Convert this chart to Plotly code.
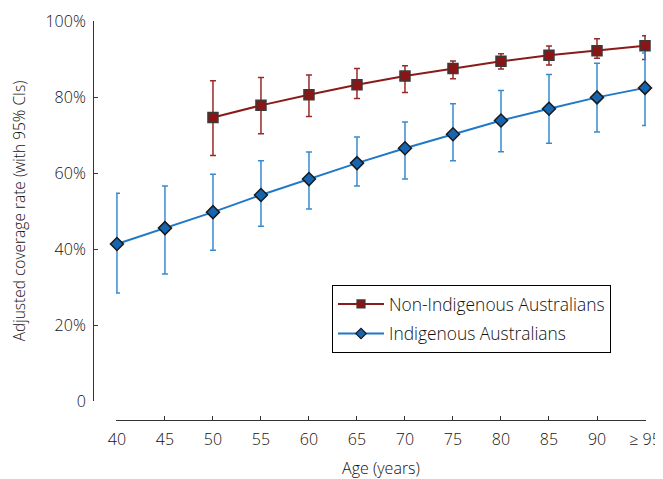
import plotly.graph_objects as go

ages = ["40", "45", "50", "55", "60", "65", "70", "75", "80", "85", "90", "≥ 95"]

non_ages = ages[2:]
non_rate = [74.6, 77.8, 80.6, 83.2, 85.5, 87.5, 89.4, 91.0, 92.2, 93.5]
non_upper = [84.3, 85.1, 85.8, 87.5, 88.2, 89.5, 91.4, 93.4, 95.3, 96.1]
non_lower = [64.6, 70.3, 74.9, 79.6, 81.2, 84.8, 87.4, 88.4, 90.2, 89.9]

ind_rate = [41.3, 45.5, 49.7, 54.2, 58.4, 62.6, 66.5, 70.2, 73.8, 76.9, 79.9, 82.4]
ind_upper = [54.7, 56.6, 59.7, 63.2, 65.5, 69.5, 73.4, 78.2, 81.7, 85.9, 88.9, 91.6]
ind_lower = [28.4, 33.4, 39.7, 46.0, 50.5, 56.6, 58.4, 63.2, 65.6, 67.8, 70.8, 72.5]

ytick_vals = [0, 20, 40, 60, 80, 100]
ytick_text = ["0", "20%", "40%", "60%", "80%", "100%"]

FONT = "Open Sans"
TXT = "#111111"
RED_LINE, RED_FILL, RED_ERR = "#8b1a1a", "#8b1414", "#9a2a2a"
BLUE_LINE, BLUE_FILL, BLUE_ERR = "#1f78c8", "#1565b0", "#3a8ad0"

fig = go.Figure()

fig.add_trace(go.Scatter(
    x=non_ages, y=non_rate, name="Non-Indigenous Australians",
    showlegend=False, mode="lines+markers",
    line=dict(color=RED_LINE, width=2),
    marker=dict(symbol="square", size=10, color=RED_FILL,
                line=dict(color="#3a3a3a", width=1.5)),
    error_y=dict(type="data", symmetric=False,
                 array=[u - r for u, r in zip(non_upper, non_rate)],
                 arrayminus=[r - l for r, l in zip(non_rate, non_lower)],
                 color=RED_ERR, thickness=1.5, width=3),
    cliponaxis=False,
))

fig.add_trace(go.Scatter(
    x=ages, y=ind_rate, name="Indigenous Australians",
    showlegend=False, mode="lines+markers",
    line=dict(color=BLUE_LINE, width=2),
    marker=dict(symbol="diamond", size=10, color=BLUE_FILL,
                line=dict(color="#1a1a1a", width=1.5)),
    error_y=dict(type="data", symmetric=False,
                 array=[u - r for u, r in zip(ind_upper, ind_rate)],
                 arrayminus=[r - l for r, l in zip(ind_rate, ind_lower)],
                 color=BLUE_ERR, thickness=1.5, width=3),
    cliponaxis=False,
))

# legend-only entries (smaller legend symbols, as in the original)
fig.add_trace(go.Scatter(
    x=[None], y=[None], name="Non-Indigenous Australians", legendgroup="a",
    mode="lines+markers", line=dict(color=RED_LINE, width=2),
    marker=dict(symbol="square", size=8, color=RED_FILL,
                line=dict(color="#3a3a3a", width=1.2)),
))
fig.add_trace(go.Scatter(
    x=[None], y=[None], name="Indigenous Australians", legendgroup="b",
    mode="lines+markers", line=dict(color=BLUE_LINE, width=2),
    marker=dict(symbol="diamond", size=8, color=BLUE_FILL,
                line=dict(color="#1a1a1a", width=1.2)),
))

fig.update_layout(
    width=655, height=471,
    margin=dict(l=85, r=17, t=13, b=59, autoexpand=False),
    paper_bgcolor="white", plot_bgcolor="white",
    font=dict(family=FONT, size=16, color=TXT, weight=300),
    showlegend=True,
    legend=dict(x=239 / 553, y=0.338, xanchor="left", yanchor="top",
                bordercolor="black", borderwidth=1, bgcolor="white",
                font=dict(size=17.4, color=TXT, weight=300), itemwidth=46,
                tracegroupgap=4),
    xaxis=dict(
        type="category", categoryorder="array", categoryarray=ages,
        range=[-0.02, 11.02], domain=[23 / 553, 552.96 / 553],
        anchor="free", position=0, automargin=False,
        showline=True, linecolor="#333333", linewidth=1,
        ticks="inside", ticklen=4, tickcolor="#333333",
        ticklabelstandoff=5,
        showgrid=False, zeroline=False,
        tickfont=dict(size=16, color=TXT, weight=300),
        title=dict(text="Age (years)", font=dict(size=16, color=TXT, weight=300),
                   standoff=14),
    ),
    yaxis=dict(
        range=[0, 100], domain=[19 / 399, 1],
        anchor="free", position=0, automargin=False,
        tickvals=ytick_vals, ticktext=ytick_text,
        showline=True, linecolor="#333333", linewidth=1,
        ticks="inside", ticklen=4, tickcolor="#333333",
        ticklabelstandoff=4,
        showgrid=False, zeroline=False,
        tickfont=dict(size=16, color=TXT, weight=300),
        title=dict(text="Adjusted coverage rate (with 95% CIs)",
                   font=dict(size=15.5, color=TXT, weight=300), standoff=18),
    ),
)

fig.write_html("out.html")
